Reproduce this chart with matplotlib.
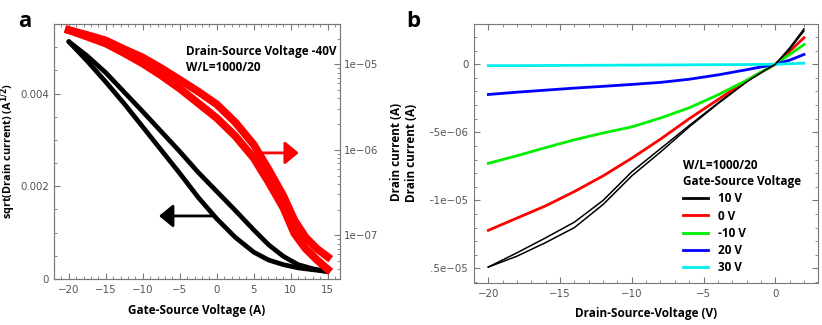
import numpy as np
import matplotlib
matplotlib.use("Agg")
from matplotlib import pyplot as plt
from matplotlib.ticker import MultipleLocator, FuncFormatter, NullFormatter, LogLocator
from matplotlib.transforms import Bbox, TransformedBbox

# ---- panel a: transfer curve (Vds = -40 V) ----
vg_sqrt_up = [-20, -17.5, -15, -12.5, -10, -7.5, -5, -2.5, 0, 2.5, 5, 7, 9, 11, 13, 15]
sqrt_up = [0.00512, 0.00481, 0.00445, 0.00403, 0.00361, 0.00318, 0.00275, 0.00230, 0.00189, 0.00148, 0.00106, 0.00074, 0.00049, 0.00031, 0.00022, 0.00016]
vg_sqrt_dn = [-20, -17.5, -15, -12.5, -10, -7.5, -5, -2.5, 0, 2.5, 5, 7, 9, 11, 13, 15]
sqrt_dn = [0.00512, 0.00470, 0.00425, 0.00378, 0.00328, 0.00278, 0.00228, 0.00176, 0.00130, 0.00090, 0.00058, 0.00041, 0.00031, 0.00024, 0.00020, 0.00016]

vg_log_up = [-20, -17.5, -15, -12.5, -10, -7.5, -5, -2.5, 0, 2.5, 5, 7, 9, 10.5, 12, 13.5, 15]
id_log_up = [2.51e-5, 2.2e-5, 1.9e-5, 1.5e-5, 1.2e-5, 9.0e-6, 6.6e-6, 4.8e-6, 3.4e-6, 2.1e-6, 1.15e-6, 5.9e-7, 2.9e-7, 1.5e-7, 9.5e-8, 7.0e-8, 5.6e-8]
vg_log_dn = [-20, -17.5, -15, -12.5, -10, -7.5, -5, -2.5, 0, 2.5, 5, 7, 9, 10.5, 12, 13.5, 15]
id_log_dn = [2.51e-5, 2.1e-5, 1.75e-5, 1.35e-5, 1.02e-5, 7.4e-6, 5.2e-6, 3.5e-6, 2.35e-6, 1.45e-6, 8.0e-7, 4.2e-7, 2.1e-7, 1.05e-7, 7.0e-8, 5.2e-8, 4.0e-8]

# ---- panel b: output curves ----
vds = [-20, -18, -16, -14, -12, -10, -8, -6, -4, -2, -1, 0, 1, 2]
id_out = {
    "10 V": [-14.9e-6, -13.85e-6, -12.75e-6, -11.6e-6, -10.0e-6, -7.9e-6, -6.2e-6, -4.5e-6, -2.85e-6, -1.25e-6, -0.6e-6, 0, 1.2e-6, 2.6e-6],
    "0 V": [-12.2e-6, -11.3e-6, -10.4e-6, -9.35e-6, -8.2e-6, -6.9e-6, -5.5e-6, -4.0e-6, -2.6e-6, -1.2e-6, -0.6e-6, 0, 0.95e-6, 1.95e-6],
    "-10 V": [-7.28e-6, -6.72e-6, -6.12e-6, -5.55e-6, -5.05e-6, -4.6e-6, -3.95e-6, -3.2e-6, -2.25e-6, -1.18e-6, -0.58e-6, 0, 0.72e-6, 1.45e-6],
    "20 V": [-2.22e-6, -2.05e-6, -1.9e-6, -1.75e-6, -1.62e-6, -1.48e-6, -1.33e-6, -1.1e-6, -0.78e-6, -0.4e-6, -0.2e-6, 0, 0.3e-6, 0.72e-6],
    "30 V": [-0.1e-6, -0.1e-6, -0.09e-6, -0.08e-6, -0.07e-6, -0.06e-6, -0.05e-6, -0.04e-6, -0.03e-6, -0.02e-6, -0.01e-6, 0, 0.04e-6, 0.08e-6],
}
# second sweep of the 10 V curve (small hysteresis)
id_10v_back = [-14.9e-6, -14.1e-6, -13.1e-6, -12.0e-6, -10.3e-6, -8.2e-6, -6.45e-6, -4.6e-6, -2.9e-6, -1.3e-6, -0.62e-6, 0, 1.1e-6, 2.45e-6]
colors = {"10 V": "black", "0 V": "#ff0000", "-10 V": "#00ee00", "20 V": "#0000ff", "30 V": "#00eeee"}

GREY = "#7a7a7a"
TICKC = "#555555"
FAM = "Open Sans"
LBL = dict(family=FAM, weight="bold", size=8.5)

plt.rcParams["font.size"] = 7.4
plt.rcParams["xtick.direction"] = "in"
plt.rcParams["ytick.direction"] = "in"
plt.rcParams["xtick.color"] = GREY
plt.rcParams["ytick.color"] = GREY
plt.rcParams["xtick.labelcolor"] = TICKC
plt.rcParams["ytick.labelcolor"] = TICKC
plt.rcParams["axes.edgecolor"] = GREY
plt.rcParams["xtick.major.size"] = 4.5
plt.rcParams["ytick.major.size"] = 4.5
plt.rcParams["xtick.minor.size"] = 2.5
plt.rcParams["ytick.minor.size"] = 2.5
plt.rcParams["xtick.major.pad"] = 4.6

fig = plt.figure(figsize=(8.22, 3.25), dpi=100)

# panel a
axa = fig.add_axes([54/822, 1-279/325, 285.5/822, 255/325])
axr = axa.twinx()
axa.plot(vg_sqrt_up, sqrt_up, color="black", lw=3.4, solid_capstyle="round")
axa.plot(vg_sqrt_dn, sqrt_dn, color="black", lw=3.4, solid_capstyle="round")
axr.plot(vg_log_up, id_log_up, color="#ff0000", lw=5.6, solid_capstyle="projecting")
axr.plot(vg_log_dn, id_log_dn, color="#ff0000", lw=5.6, solid_capstyle="projecting")
axa.set_xlim(-22, 16.6)
axa.set_ylim(0, 0.0055)
axr.set_yscale("log")
axr.set_ylim(3.08e-8, 2.96e-5)
axa.xaxis.set_major_locator(MultipleLocator(5))
axa.xaxis.set_minor_locator(MultipleLocator(1))
axa.yaxis.set_major_locator(MultipleLocator(0.002))
axa.yaxis.set_minor_locator(MultipleLocator(0.0005))
axa.yaxis.set_major_formatter(FuncFormatter(lambda v, p: f"{v:g}"))
axa.tick_params(which="both", top=True, right=False)
axr.yaxis.set_major_locator(LogLocator(base=10, numticks=10))
axr.yaxis.set_minor_locator(LogLocator(base=10, subs=np.arange(2, 10), numticks=10))
axr.yaxis.set_major_formatter(FuncFormatter(lambda v, p: f"{v:.0e}".replace("-", "\u2212")))
axr.yaxis.set_minor_formatter(NullFormatter())
axa.set_xlabel("Gate-Source Voltage (A)", labelpad=6, **LBL)
axa.set_ylabel("sqrt(Drain current) (A$^{\\mathbf{1/2}}$)", family=FAM, weight="bold", size=7.8)
axa.yaxis.set_label_coords(-0.126, 0.5)
axr.set_ylabel("Drain current (A)", **LBL)
axr.yaxis.set_label_coords(1.177, 0.5)
axa.text(0.4627, 0.894, "Drain-Source Voltage -40V", transform=axa.transAxes, va="center", **LBL)
axa.text(0.4627, 0.831, "W/L=1000/20", transform=axa.transAxes, va="center", **LBL)
axa.annotate("", xy=(-7.8, 0.00136), xytext=(-0.45, 0.00136),
             arrowprops=dict(arrowstyle="-|>,head_length=0.85,head_width=0.7", color="black", lw=2, mutation_scale=10, shrinkA=0, shrinkB=0))
axa.annotate("", xy=(11.1, 0.00272), xytext=(5.5, 0.00272),
             arrowprops=dict(arrowstyle="-|>,head_length=0.85,head_width=0.7", color="#ff0000", lw=2, mutation_scale=10, shrinkA=0, shrinkB=0))

# panel b
axb = fig.add_axes([474/822, 1-282.7/325, 344.3/822, 258.7/325])
for name, ys in id_out.items():
    axb.plot(vds, ys, color=colors[name], lw=2.0 if name != "10 V" else 1.1, label=name)
axb.plot(vds, id_10v_back, color="black", lw=1.1)
axb.set_xlim(-21, 3)
axb.set_ylim(-1.605e-5, 2.96e-6)
axb.xaxis.set_major_locator(MultipleLocator(5))
axb.xaxis.set_minor_locator(MultipleLocator(1))
axb.yaxis.set_major_locator(MultipleLocator(5e-6))
axb.yaxis.set_minor_locator(MultipleLocator(1e-6))
axb.yaxis.set_major_formatter(FuncFormatter(lambda v, p: f"{v:g}".replace("-", "\u2212")))
axb.tick_params(which="both", top=True, right=True)
axb.set_xlabel("Drain-Source-Voltage (V)", labelpad=6, **LBL)
axb.set_ylabel("Drain current (A)", **LBL)
axb.yaxis.set_label_coords(-0.1626, 0.5)
leg = axb.legend(title="W/L=1000/20\nGate-Source Voltage", alignment="left", frameon=False,
                 loc="upper left", bbox_to_anchor=(683/822, 1-159/325), bbox_transform=fig.transFigure,
                 borderpad=0, borderaxespad=0, handlelength=2.1, handletextpad=0.84, labelspacing=0.36,
                 prop=dict(family=FAM, weight="bold", size=8.5),
                 title_fontproperties=dict(family=FAM, weight="bold", size=8.5))
leg.get_title().set_linespacing(1.3)
for h in leg.legend_handles:
    h.set_linewidth(2.0)

fig.text(25/822, 1-27/325, "a", ha="center", va="baseline", family=FAM, weight="bold", size=16)
fig.text(413/822, 1-27/325, "b", ha="center", va="baseline", family=FAM, weight="bold", size=16)

# left part of panel b's lowest tick label is cut off in the reference
fig.canvas.draw()
clip = TransformedBbox(Bbox([[430/822, 0], [1, 1]]), fig.transFigure)
for lab in axb.yaxis.get_ticklabels():
    lab.set_clip_box(clip)
    lab.set_clip_on(True)

fig.savefig("out.png", dpi=100)
